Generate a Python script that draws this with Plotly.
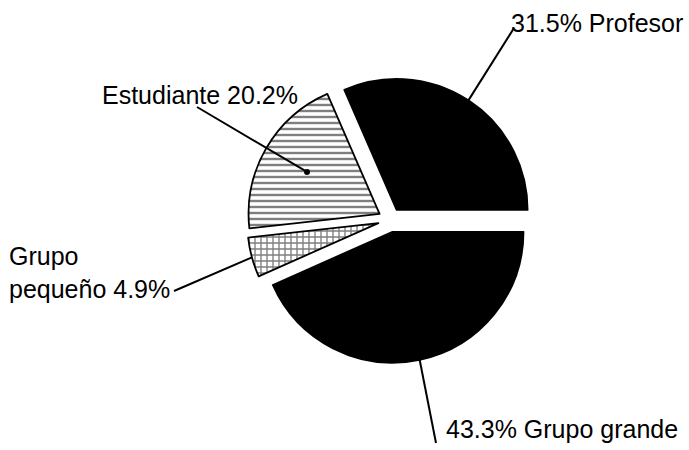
import math
import plotly.graph_objects as go

# ---- data ----
labels = ["Profesor", "Estudiante", "Grupo pequeño", "Grupo grande"]
values = [31.5, 20.2, 4.9, 43.3]
label_texts = ["31.5% Profesor", "Estudiante 20.2%", "pequeño 4.9%", "43.3% Grupo grande"]
pattern_shapes = ["", "-", "+", ""]
slice_colors = ["black", "white", "white", "black"]

# ---- layout geometry (pixels) ----
W, H = 689, 450
CX, CY = 390, 220      # pie centre
R = 131                # pie radius
PULL = 0.092

box = 2 * R * (1 + PULL)
dom_x = [(CX - box / 2) / W, (CX + box / 2) / W]
dom_y = [1 - (CY + box / 2) / H, 1 - (CY - box / 2) / H]

total = sum(values)
# first slice spans from 3 o'clock counter-clockwise
rotation = 90 - values[0] / total * 360

fig = go.Figure(go.Pie(
    labels=labels,
    values=values,
    sort=False,
    direction="counterclockwise",
    rotation=rotation,
    pull=[PULL] * len(values),
    textinfo="none",
    hoverinfo="label+percent",
    marker=dict(
        colors=slice_colors,
        line=dict(color="black", width=1.8),
        pattern=dict(shape=pattern_shapes, fgcolor="black", bgcolor="white",
                     size=[6, 6, 6, 6], solidity=[0.4, 0.4, 0.4, 0.4],
                     fillmode="overlay"),
    ),
    domain=dict(x=dom_x, y=dom_y),
    showlegend=False,
))


def px2paper(x, y):
    return x / W, 1 - y / H


mids = []
acc = 0.0
for v in values:
    mids.append(math.radians((acc + v / 2) / total * 360))
    acc += v


def slice_point(i, frac):
    a = mids[i]
    ax_ = CX + PULL * R * math.cos(a)
    ay_ = CY - PULL * R * math.sin(a)
    return ax_ + frac * R * math.cos(a), ay_ - frac * R * math.sin(a)


# label anchors (text left edge, vertical middle) and leader-line starts
TX_OFF, TY_OFF = -3, -1
text_pos = [(512, 24), (103, 96), (10, 290), (447, 430)]
line_start = [(514, 28), (197, 107), (174, 291), (436, 443)]
tip_frac = [1.0, 0.64, 1.0, 1.0]

shapes = []
annotations = []
font = dict(family="Liberation Sans, Arial, sans-serif", size=25, color="black")
for i in range(len(values)):
    tx, ty = slice_point(i, tip_frac[i])
    x0, y0 = px2paper(*line_start[i])
    x1, y1 = px2paper(tx, ty)
    shapes.append(dict(type="line", xref="paper", yref="paper", x0=x0, y0=y0, x1=x1, y1=y1,
                       line=dict(color="black", width=2)))
    px, py = px2paper(text_pos[i][0] + TX_OFF, text_pos[i][1] + TY_OFF)
    annotations.append(dict(text=label_texts[i], x=px, y=py, xref="paper", yref="paper",
                            xanchor="left", yanchor="middle", showarrow=False, font=font))

# dot at end of Estudiante leader
dx, dy = slice_point(1, tip_frac[1])
shapes.append(dict(type="circle", xref="paper", yref="paper",
                   x0=(dx - 3) / W, x1=(dx + 3) / W, y0=1 - (dy + 3) / H, y1=1 - (dy - 3) / H,
                   fillcolor="black", line=dict(color="black", width=0)))

# first line of the "Grupo pequeño" label
gx, gy = px2paper(10 + TX_OFF, 257 + TY_OFF)
annotations.append(dict(text="Grupo", x=gx, y=gy, xref="paper", yref="paper",
                        xanchor="left", yanchor="middle", showarrow=False, font=font))

fig.update_layout(
    width=W, height=H,
    margin=dict(l=0, r=0, t=0, b=0),
    paper_bgcolor="white", plot_bgcolor="white",
    shapes=shapes, annotations=annotations,
)

fig.write_html("out.html",
               config={"displayModeBar": False},
               post_script="document.body.style.margin='0';document.body.style.overflow='hidden';")
